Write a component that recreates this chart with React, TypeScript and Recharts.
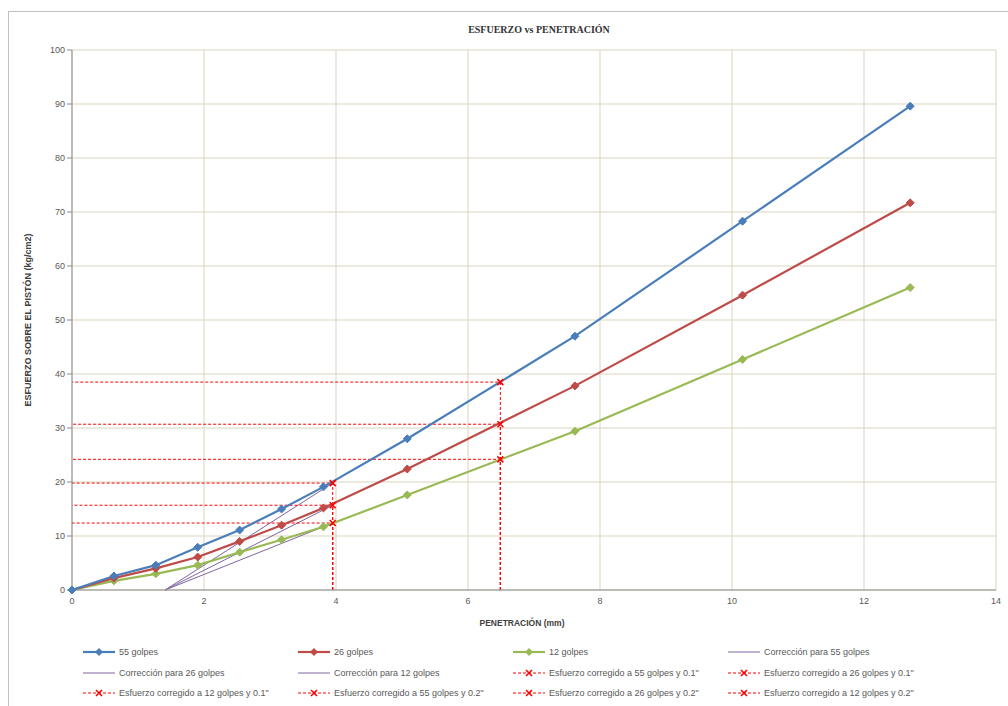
import { CartesianGrid, Label, Line, LineChart, XAxis, YAxis } from "recharts";

const penetracion = [0, 0.635, 1.27, 1.905, 2.54, 3.175, 3.81, 5.08, 7.62, 10.16, 12.7];
const golpes55 = [0, 2.6, 4.6, 7.9, 11.1, 15.0, 19.1, 28.0, 47.0, 68.3, 89.6];
const golpes26 = [0, 2.2, 4.0, 6.1, 9.0, 12.0, 15.2, 22.4, 37.8, 54.6, 71.7];
const golpes12 = [0, 1.7, 3.0, 4.6, 7.0, 9.3, 11.7, 17.6, 29.4, 42.7, 56.0];

// origen corregido y penetraciones corregidas (0.1" y 0.2")
const origenCorr = 1.41;
const pen01 = 3.95;
const pen02 = 6.49;
const corr01 = { g55: 19.8, g26: 15.7, g12: 12.4 };
const corr02 = { g55: 38.5, g26: 30.7, g12: 24.2 };

const xTicks = [0, 2, 4, 6, 8, 10, 12, 14];
const yTicks = [0, 10, 20, 30, 40, 50, 60, 70, 80, 90, 100];

const BLUE = "#4a7ebb";
const RED = "#be4b48";
const GREEN = "#98b954";
const PURPLE = "#8064a2";
const DASH_RED = "#ff0000";

type Pt = { x: number; y: number };

const toPts = (ys: number[]): Pt[] => penetracion.map((x, i) => ({ x, y: ys[i] }));
const corrLine = (v: number): Pt[] => [
  { x: origenCorr, y: 0 },
  { x: pen01, y: v },
];
// se dibuja desde el eje x hacia arriba y luego hacia el eje y
const dashed = (xp: number, v: number): Pt[] => [
  { x: xp, y: 0 },
  { x: xp, y: v },
  { x: 0, y: v },
];

const diamond = (color: string) => (p: any) => {
  const { cx, cy, index } = p;
  return (
    <path
      key={`d-${color}-${index}`}
      d={`M${cx},${cy - 4} L${cx + 4},${cy} L${cx},${cy + 4} L${cx - 4},${cy} Z`}
      fill={color}
      stroke={color}
    />
  );
};

const cross = (p: any) => {
  const { cx, cy, index } = p;
  if (index !== 1) return <g key={`c-${cx}-${cy}-${index}`} />;
  return (
    <path
      key={`c-${cx}-${cy}-${index}`}
      d={`M${cx - 3},${cy - 3} L${cx + 3},${cy + 3} M${cx - 3},${cy + 3} L${cx + 3},${cy - 3}`}
      stroke={DASH_RED}
      strokeWidth={1.6}
    />
  );
};

const legendRows = [
  [
    { name: "55 golpes", kind: "main", color: BLUE },
    { name: "26 golpes", kind: "main", color: RED },
    { name: "12 golpes", kind: "main", color: GREEN },
    { name: "Corrección para 55 golpes", kind: "corr", color: PURPLE },
  ],
  [
    { name: "Corrección para 26 golpes", kind: "corr", color: PURPLE },
    { name: "Corrección para 12 golpes", kind: "corr", color: PURPLE },
    { name: "Esfuerzo corregido a 55 golpes y 0.1\"", kind: "dash", color: DASH_RED },
    { name: "Esfuerzo corregido a 26 golpes y 0.1\"", kind: "dash", color: DASH_RED },
  ],
  [
    { name: "Esfuerzo corregido a 12 golpes y 0.1\"", kind: "dash", color: DASH_RED },
    { name: "Esfuerzo corregido a 55 golpes y 0.2\"", kind: "dash", color: DASH_RED },
    { name: "Esfuerzo corregido a 26 golpes y 0.2\"", kind: "dash", color: DASH_RED },
    { name: "Esfuerzo corregido a 12 golpes y 0.2\"", kind: "dash", color: DASH_RED },
  ],
];

function LegendMark({ kind, color }: { kind: string; color: string }) {
  return (
    <svg width={32} height={10} style={{ display: "block" }}>
      {kind === "main" && (
        <>
          <line x1={0} y1={5} x2={32} y2={5} stroke={color} strokeWidth={2.2} />
          <path d="M16,1 L20,5 L16,9 L12,5 Z" fill={color} />
        </>
      )}
      {kind === "corr" && <line x1={0} y1={5} x2={32} y2={5} stroke={color} strokeWidth={1} />}
      {kind === "dash" && (
        <>
          <line x1={0} y1={5} x2={32} y2={5} stroke={color} strokeWidth={1} strokeDasharray="3 2" />
          <path d="M13,2 L19,8 M13,8 L19,2" stroke={color} strokeWidth={1.6} />
        </>
      )}
    </svg>
  );
}

export default function App() {
  const textCol = "#595959";
  return (
    <div style={{ position: "absolute", left: 0, top: 0, width: 1008, height: 706, background: "#fff", overflow: "hidden" }}>
      <div
        style={{
          position: "absolute",
          left: 8,
          top: 11,
          width: 1010,
          height: 710,
          borderTop: "1px solid #c0c0c0",
          borderLeft: "1px solid #c0c0c0",
        }}
      />
      <div
        style={{
          position: "absolute",
          left: 0,
          width: 1078,
          top: 24,
          textAlign: "center",
          fontFamily: "'Liberation Serif', serif",
          fontWeight: "bold",
          fontSize: 10,
          color: "#333",
        }}
      >
        ESFUERZO vs PENETRACIÓN
      </div>
      <LineChart
        width={1008}
        height={706}
        margin={{ top: 50, right: 12, left: 12, bottom: 86 }}
        style={{ position: "absolute", left: 0, top: 0 }}
      >
        <CartesianGrid stroke="#d9d5bf" strokeWidth={1} />
        <XAxis
          dataKey="x"
          type="number"
          domain={[0, 14]}
          ticks={xTicks}
          height={30}
          tickLine={false}
          stroke="#8c8c8c"
          tick={{ fill: textCol, fontSize: 9, fontFamily: "'Liberation Sans', sans-serif" }}
          allowDuplicatedCategory={false}
        >
          <Label
            value="PENETRACIÓN (mm)"
            position="insideBottom"
            offset={-6}
            dx={-12}
            style={{ fontSize: 8.5, fontWeight: "bold", fill: "#404040", fontFamily: "'Liberation Sans', sans-serif" }}
          />
        </XAxis>
        <YAxis
          type="number"
          domain={[0, 100]}
          ticks={yTicks}
          width={60}
          tickSize={5}
          stroke="#8c8c8c"
          tick={{ fill: textCol, fontSize: 9, fontFamily: "'Liberation Sans', sans-serif" }}
        >
          <Label
            value="ESFUERZO SOBRE EL PISTÓN (kg/cm2)"
            angle={-90}
            position="insideLeft"
            offset={16}
            style={{ textAnchor: "middle", fontSize: 9, fontWeight: "bold", fill: "#404040", fontFamily: "'Liberation Sans', sans-serif" }}
          />
        </YAxis>

        <Line data={corrLine(corr01.g55)} dataKey="y" stroke={PURPLE} strokeWidth={1} dot={false} isAnimationActive={false} name="Corrección para 55 golpes" />
        <Line data={corrLine(corr01.g26)} dataKey="y" stroke={PURPLE} strokeWidth={1} dot={false} isAnimationActive={false} name="Corrección para 26 golpes" />
        <Line data={corrLine(corr01.g12)} dataKey="y" stroke={PURPLE} strokeWidth={1} dot={false} isAnimationActive={false} name="Corrección para 12 golpes" />

        <Line data={dashed(pen01, corr01.g55)} dataKey="y" stroke={DASH_RED} strokeWidth={1} strokeDasharray="3 2" dot={cross} isAnimationActive={false} name="Esfuerzo corregido a 55 golpes y 0.1&quot;" />
        <Line data={dashed(pen01, corr01.g26)} dataKey="y" stroke={DASH_RED} strokeWidth={1} strokeDasharray="3 2" dot={cross} isAnimationActive={false} name="Esfuerzo corregido a 26 golpes y 0.1&quot;" />
        <Line data={dashed(pen01, corr01.g12)} dataKey="y" stroke={DASH_RED} strokeWidth={1} strokeDasharray="3 2" dot={cross} isAnimationActive={false} name="Esfuerzo corregido a 12 golpes y 0.1&quot;" />
        <Line data={dashed(pen02, corr02.g55)} dataKey="y" stroke={DASH_RED} strokeWidth={1} strokeDasharray="3 2" dot={cross} isAnimationActive={false} name="Esfuerzo corregido a 55 golpes y 0.2&quot;" />
        <Line data={dashed(pen02, corr02.g26)} dataKey="y" stroke={DASH_RED} strokeWidth={1} strokeDasharray="3 2" dot={cross} isAnimationActive={false} name="Esfuerzo corregido a 26 golpes y 0.2&quot;" />
        <Line data={dashed(pen02, corr02.g12)} dataKey="y" stroke={DASH_RED} strokeWidth={1} strokeDasharray="3 2" dot={cross} isAnimationActive={false} name="Esfuerzo corregido a 12 golpes y 0.2&quot;" />

        <Line data={toPts(golpes12)} dataKey="y" stroke={GREEN} strokeWidth={2.2} dot={diamond(GREEN)} isAnimationActive={false} name="12 golpes" />
        <Line data={toPts(golpes26)} dataKey="y" stroke={RED} strokeWidth={2.2} dot={diamond(RED)} isAnimationActive={false} name="26 golpes" />
        <Line data={toPts(golpes55)} dataKey="y" stroke={BLUE} strokeWidth={2.2} dot={diamond(BLUE)} isAnimationActive={false} name="55 golpes" />
      </LineChart>

      {legendRows.map((row, r) =>
        row.map((item, c) => (
          <div
            key={`${r}-${c}`}
            style={{
              position: "absolute",
              left: 83 + c * 215,
              top: 647 + r * 20.5,
              display: "flex",
              alignItems: "center",
              gap: 4,
              fontFamily: "'Liberation Sans', sans-serif",
              fontSize: 9,
              color: textCol,
              whiteSpace: "nowrap",
            }}
          >
            <LegendMark kind={item.kind} color={item.color} />
            <span>{item.name}</span>
          </div>
        ))
      )}
    </div>
  );
}
